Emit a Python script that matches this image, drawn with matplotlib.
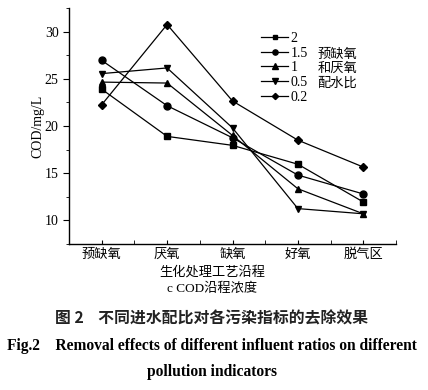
import matplotlib
matplotlib.use("Agg")
import matplotlib.pyplot as plt
from matplotlib.ticker import MultipleLocator

# ---- data ----
stages = ["预缺氧", "厌氧", "缺氧", "好氧", "脱气区"]
ratios = ["2", "1.5", "1", "0.5", "0.2"]
cod_2 = [23.9, 18.9, 17.95, 15.95, 11.95]
cod_15 = [26.95, 22.15, 18.75, 14.8, 12.8]
cod_1 = [24.65, 24.55, 19.0, 13.35, 10.7]
cod_05 = [25.55, 26.15, 19.8, 11.25, 10.7]
cod_02 = [22.25, 30.75, 22.65, 18.5, 15.65]
series = [cod_2, cod_15, cod_1, cod_05, cod_02]
markers = ["s", "o", "^", "v", "D"]
msizes = [4.5, 5, 5, 5, 4.2]
legend_side = ["预缺氧", "和厌氧", "配水比"]

SERIF = ["Liberation Serif", "Noto Sans CJK SC"]
CJK = ["Noto Sans CJK SC", "DejaVu Sans"]

fig = plt.figure(figsize=(4.28, 3.90), dpi=100)
ax = fig.add_axes([69/428, 1-244/390, (396-69)/428, (244-8)/390])

x = list(range(len(stages)))
handles = []
for vals, m, ms, lab in zip(series, markers, msizes, ratios):
    h, = ax.plot(x, vals, color="black", lw=0.9, marker=m, ms=ms,
                 mfc="black", mec="black", label=lab)
    handles.append(h)

ax.set_xlim(-0.5, 4.5)
ax.set_ylim(7.5, 32.5)
ax.spines["top"].set_visible(False)
ax.spines["right"].set_visible(False)
for s in ["left", "bottom"]:
    ax.spines[s].set_linewidth(1.0)

ax.set_xticks(x)
ax.set_xticklabels(stages, fontfamily=CJK, fontsize=9.5)
ax.xaxis.set_minor_locator(MultipleLocator(0.5))
ax.tick_params(axis="x", which="both", direction="in", length=3, pad=3)
ax.yaxis.set_minor_locator(MultipleLocator(2.5))
ax.tick_params(axis="y", which="major", direction="out", length=4)
ax.tick_params(axis="y", which="minor", direction="out", length=2)
ax.set_yticks([10, 15, 20, 25, 30])
ax.set_yticklabels(["10", "15", "20", "25", "30"], fontfamily=SERIF, fontsize=10)

ax.set_ylabel("COD/mg/L", fontfamily=SERIF, fontsize=10, labelpad=0)

leg = ax.legend(handles=handles, loc="upper left",
                bbox_to_anchor=((261-69)/327, 1-(32-8)/236),
                frameon=False, prop={"family": SERIF, "size": 10},
                handlelength=1.95, handletextpad=0.2, labelspacing=0.12,
                borderpad=0, borderaxespad=0, markerscale=0.75)

for i, t in enumerate(legend_side):
    yy = 54 + i * 14.4
    fig.text(317.5/428, 1-yy/390, t, fontfamily=CJK, fontsize=9.5,
             ha="left", va="center")

fig.text(212/428, 1-272/390, "生化处理工艺沿程", fontfamily=CJK, fontsize=9.5,
         ha="center", va="center")
fig.text(212/428, 1-289/390, "c COD沿程浓度", fontfamily=SERIF, fontsize=9.5,
         ha="center", va="center")
fig.text(212/428, 1-319/390, "图 2    不同进水配比对各污染指标的去除效果",
         fontfamily=CJK, fontsize=11.4, fontweight="bold", ha="center", va="center",
         color="#222222")
fig.text(212/428, 1-346/390,
         "Fig.2    Removal effects of different influent ratios on different",
         fontfamily=SERIF, fontsize=11.2, fontweight="bold", ha="center", va="center")
fig.text(212/428, 1-372/390, "pollution indicators",
         fontfamily=SERIF, fontsize=11.2, fontweight="bold", ha="center", va="center")

fig.savefig("out.png", dpi=100)
